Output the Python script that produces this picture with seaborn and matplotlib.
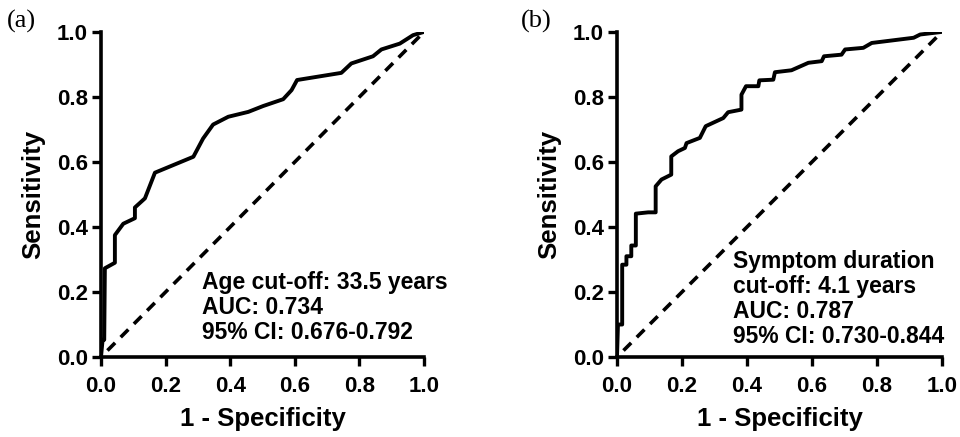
import numpy as np
import pandas as pd
import seaborn as sns
import matplotlib.pyplot as plt

# ROC curve (a): age
age_fpr = [0.0, 0.005, 0.010, 0.012, 0.043, 0.043, 0.069, 0.105, 0.105, 0.136, 0.167,
           0.286, 0.316, 0.347, 0.394, 0.456, 0.502, 0.564, 0.590, 0.607, 0.744,
           0.775, 0.842, 0.868, 0.925, 0.966, 1.0]
age_tpr = [0.0, 0.053, 0.053, 0.273, 0.290, 0.375, 0.410, 0.427, 0.460, 0.488, 0.567,
           0.616, 0.672, 0.715, 0.739, 0.754, 0.772, 0.793, 0.821, 0.852, 0.874,
           0.903, 0.925, 0.946, 0.964, 0.990, 1.0]

# ROC curve (b): symptom duration
dur_fpr = [0.0, 0.003, 0.016, 0.016, 0.029, 0.029, 0.044, 0.044, 0.058, 0.058, 0.096,
           0.119, 0.119, 0.137, 0.167, 0.167, 0.188, 0.209, 0.214, 0.255, 0.273,
           0.327, 0.342, 0.383, 0.383, 0.397, 0.435, 0.438, 0.481, 0.486, 0.537,
           0.589, 0.630, 0.637, 0.691, 0.702, 0.758, 0.784, 0.913, 0.933, 1.0]
dur_tpr = [0.0, 0.100, 0.100, 0.284, 0.284, 0.310, 0.310, 0.343, 0.343, 0.441, 0.445,
           0.445, 0.525, 0.546, 0.561, 0.617, 0.633, 0.643, 0.658, 0.674, 0.710,
           0.735, 0.753, 0.761, 0.807, 0.833, 0.833, 0.851, 0.853, 0.876, 0.882,
           0.905, 0.910, 0.925, 0.930, 0.946, 0.951, 0.966, 0.982, 0.992, 1.0]

ticks = [0.0, 0.2, 0.4, 0.6, 0.8, 1.0]
tick_labels = ['0.0', '0.2', '0.4', '0.6', '0.8', '1.0']

panels = [
    ('(a)', age_fpr, age_tpr,
     'Age cut-off: 33.5 years\nAUC: 0.734\n95% CI: 0.676-0.792'),
    ('(b)', dur_fpr, dur_tpr,
     'Symptom duration\ncut-off: 4.1 years\nAUC: 0.787\n95% CI: 0.730-0.844'),
]

sns.set_style('ticks')
plt.rcParams['font.family'] = ['Liberation Sans', 'DejaVu Sans']
plt.rcParams.update({'text.color': 'black', 'axes.labelcolor': 'black',
                     'xtick.color': 'black', 'ytick.color': 'black'})

fig = plt.figure(figsize=(9.6, 4.37), dpi=100)
ax_pos = [[0.1052, 0.183, 0.3365, 0.744], [0.6427, 0.183, 0.3385, 0.744]]
text_pos = [(0.313, 0.152), (0.357, 0.178)]
label_x = [0.007, 0.543]

for i, (tag, fpr, tpr, txt) in enumerate(panels):
    ax = fig.add_axes(ax_pos[i])
    df = pd.DataFrame({'fpr': fpr, 'tpr': tpr})
    # reference line
    ax.plot([0.02, 1], [0.02, 1], color='black', lw=2.6, ls=(0, (3, 2.2)), zorder=2)
    sns.lineplot(data=df, x='fpr', y='tpr', sort=False, estimator=None,
                 color='black', lw=2.8, ax=ax, zorder=3)
    ax.set_xlim(0, 1)
    ax.set_ylim(0, 1)
    ax.set_xticks(ticks)
    ax.set_xticklabels(tick_labels)
    ax.set_yticks(ticks)
    ax.set_yticklabels(tick_labels)
    for lab in ax.get_xticklabels() + ax.get_yticklabels():
        lab.set_fontweight('bold')
        lab.set_fontsize(16)
    ax.tick_params(width=2.4, length=6.5, color='black')
    ax.tick_params(axis='x', pad=7.5)
    ax.tick_params(axis='y', pad=3)
    for s in ['left', 'bottom']:
        ax.spines[s].set_linewidth(2.6)
        ax.spines[s].set_color('black')
    sns.despine(ax=ax)
    ax.set_xlabel('1 - Specificity', fontsize=18.5, fontweight='bold', labelpad=7)
    ax.set_ylabel('Sensitivity', fontsize=18.5, fontweight='bold', labelpad=8)
    ax.text(text_pos[i][0], text_pos[i][1], txt, transform=ax.transAxes,
            fontsize=16.5, fontweight='bold', va='center', ha='left',
            linespacing=1.12)
    fig.text(label_x[i], 0.95, tag, fontsize=19, family='Liberation Serif',
             va='center')

fig.savefig('out.png', dpi=100)
